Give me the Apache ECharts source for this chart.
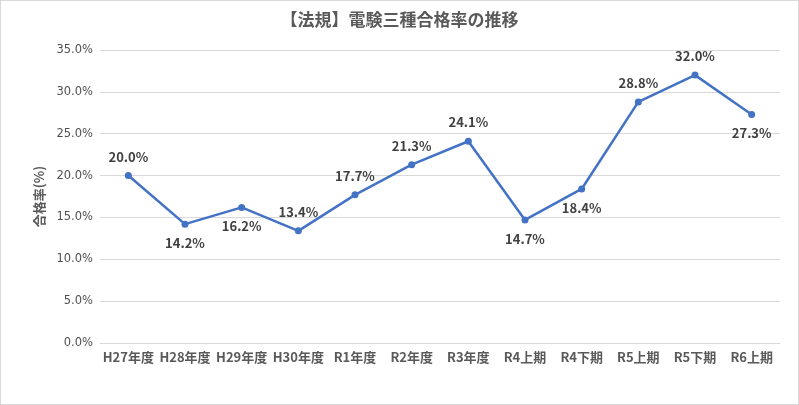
<!DOCTYPE html>
<html><head><meta charset="utf-8">
<script src="https://cdn.jsdelivr.net/npm/echarts@6/dist/echarts.min.js"></script>
<style>
html,body{margin:0;padding:0;background:#fff;}
#c{width:799px;height:405px;box-sizing:border-box;border:1px solid #d9d9d9;}
</style></head>
<body><div id="c"></div>
<script>
const categories = ['H27年度','H28年度','H29年度','H30年度','R1年度','R2年度','R3年度','R4上期','R4下期','R5上期','R5下期','R6上期'];
const passRates = [20.0, 14.2, 16.2, 13.4, 17.7, 21.3, 24.1, 14.7, 18.4, 28.8, 32.0, 27.3];
const labelPos = ['top','bottom','bottom','top','top','top','top','bottom','bottom','top','top','bottom'];
const yTicks = [0,5,10,15,20,25,30,35];

const font = '"Noto Sans CJK JP", sans-serif';
const chart = echarts.init(document.getElementById('c'));
chart.setOption({
  animation:false,
  title:{text:'【法規】電験三種合格率の推移', left:'center', top:5,
    textStyle:{fontFamily:font, fontSize:17, fontWeight:'bold', color:'#595959'}},
  grid:{left:99, right:18, top:49, bottom:61},
  xAxis:{type:'category', data:categories, boundaryGap:true,
    axisLine:{lineStyle:{color:'#d9d9d9'}}, axisTick:{show:false},
    axisLabel:{fontFamily:font, fontSize:13, fontWeight:'bold', color:'#595959', margin:8, interval:0}},
  yAxis:{type:'value', min:0, max:35, interval:5,
    name:'合格率(%)', nameLocation:'middle', nameGap:53, nameRotate:90,
    nameTextStyle:{fontFamily:font, fontSize:13, fontWeight:'bold', color:'#595959'},
    axisLine:{show:false}, axisTick:{show:false},
    splitLine:{lineStyle:{color:'#d9d9d9'}},
    axisLabel:{fontFamily:'"DejaVu Sans", sans-serif', fontSize:11.5, color:'#505050', margin:7,
      formatter:v=>v.toFixed(1)+'%'}},
  series:[{type:'line', data:passRates.map((v,i)=>({value:v, label:{position:labelPos[i]}})),
    lineStyle:{color:'#4472C4', width:2.5}, itemStyle:{color:'#4472C4'},
    symbol:'circle', symbolSize:7,
    label:{show:true, distance:9, fontFamily:font, fontSize:13, fontWeight:'bold', color:'#404040',
      formatter:p=>p.value.toFixed(1)+'%'}}]
});
</script></body></html>
